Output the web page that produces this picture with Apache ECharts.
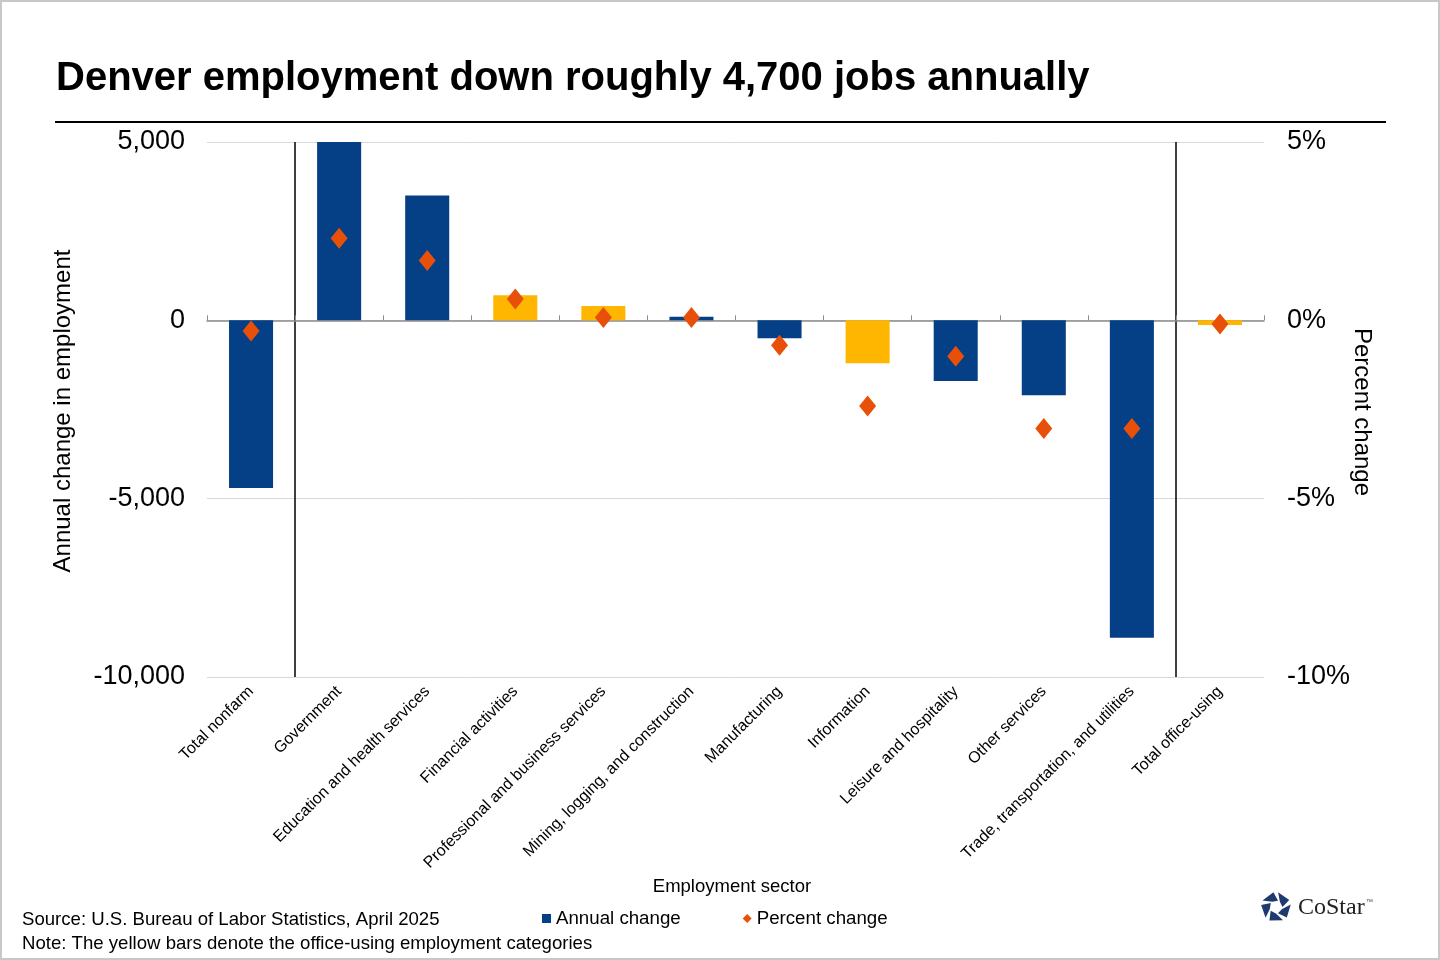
<!DOCTYPE html>
<html>
<head>
<meta charset="utf-8">
<script src="https://cdn.jsdelivr.net/npm/echarts@6/dist/echarts.min.js"></script>
<style>
  html, body { margin: 0; padding: 0; background: #fff; }
  #chart { width: 1440px; height: 960px; }
</style>
</head>
<body>
<div id="chart"></div>
<script>
const categories = [
  'Total nonfarm', 'Government', 'Education and health services', 'Financial activities',
  'Professional and business services', 'Mining, logging, and construction', 'Manufacturing',
  'Information', 'Leisure and hospitality', 'Other services',
  'Trade, transportation, and utilities', 'Total office-using'
];
const annualChange = [-4700, 5000, 3500, 700, 400, 100, -500, -1200, -1700, -2100, -8900, -130];
const percentChange = [-0.3, 2.3, 1.68, 0.6, 0.08, 0.08, -0.7, -2.4, -1.01, -3.03, -3.03, -0.1];
const officeUsing = ['Financial activities', 'Professional and business services', 'Information', 'Total office-using'];
const leftTicks = [-10000, -5000, 0, 5000];
const rightTicks = [-10, -5, 0, 5];
const separatorBefore = ['Government', 'Total office-using'];

const FONT = 'Liberation Sans, Arial, sans-serif';
const NAVY = '#053F86';
const YELLOW = '#FFB600';
const ORANGE = '#E8500A';

const chart = echarts.init(document.getElementById('chart'));

const barData = annualChange.map((v, i) => officeUsing.includes(categories[i])
  ? { value: v, itemStyle: { color: YELLOW } } : v);
const separatorIdx = separatorBefore.map(n => categories.indexOf(n));

function logoBlocks(cx, cy) {
  const els = [];
  const R = 15, r = 6.5;
  for (let k = 0; k < 5; k++) {
    const a0 = (-90 + k * 72 + 8) * Math.PI / 180;
    const a1 = (-90 + k * 72 + 62) * Math.PI / 180;
    const pts = [
      [cx + R * Math.cos(a0), cy + R * Math.sin(a0)],
      [cx + R * Math.cos(a1), cy + R * Math.sin(a1)],
      [cx + r * Math.cos(a1 + 0.5), cy + r * Math.sin(a1 + 0.5)],
      [cx + r * Math.cos(a0 + 0.5), cy + r * Math.sin(a0 + 0.5)]
    ];
    els.push({ type: 'polygon', shape: { points: pts }, style: { fill: '#1F3A6E' }, silent: true });
  }
  return els;
}

const option = {
  animation: false,
  backgroundColor: '#fff',
  textStyle: { fontFamily: FONT },
  title: {
    text: 'Denver employment down roughly 4,700 jobs annually',
    left: 51, top: 54,
    textStyle: { fontSize: 40, fontWeight: 'bold', color: '#000', fontFamily: FONT }
  },
  grid: { left: 207, right: 176, top: 142, bottom: 283, containLabel: false },
  legend: {
    left: 537, top: 904,
    itemWidth: 9, itemHeight: 9, itemGap: 62,
    textStyle: { fontSize: 18.7, color: '#000', fontFamily: FONT },
    data: [{ name: 'Annual change', icon: 'rect' }, { name: 'Percent change', icon: 'diamond' }]
  },
  xAxis: [
    {
      type: 'category', data: categories, position: 'top',
      axisLine: { onZero: true, lineStyle: { color: '#8c8c8c', width: 1.5 } },
      axisTick: { show: true, interval: 0, length: 5, lineStyle: { color: '#8c8c8c' } },
      axisLabel: { show: false },
      splitLine: { show: false }
    },
    {
      type: 'category', data: categories, position: 'bottom',
      axisLine: { show: false, onZero: false },
      axisTick: { show: false },
      axisLabel: { interval: 0, rotate: 45, fontSize: 16, color: '#000', margin: 12, fontFamily: FONT },
      splitLine: {
        show: true, showMinLine: true, showMaxLine: false,
        interval: (idx) => separatorIdx.includes(idx),
        lineStyle: { color: '#000', width: 1.5 }
      }
    }
  ],
  yAxis: [
    {
      type: 'value', min: leftTicks[0], max: leftTicks[leftTicks.length - 1], interval: 5000,
      axisLine: { show: false }, axisTick: { show: false },
      axisLabel: {
        fontSize: 27, color: '#000', margin: 22, fontFamily: FONT,
        formatter: v => v.toLocaleString('en-US')
      },
      splitLine: { showMinLine: true, showMaxLine: true, lineStyle: { color: '#d9d9d9', width: 1 } }
    },
    {
      type: 'value', min: rightTicks[0], max: rightTicks[rightTicks.length - 1], interval: 5,
      position: 'right',
      axisLine: { show: false }, axisTick: { show: false },
      axisLabel: { fontSize: 27, color: '#000', margin: 23, fontFamily: FONT, formatter: '{value}%' },
      splitLine: { show: false }
    }
  ],
  series: [
    {
      name: 'Annual change', type: 'bar', xAxisIndex: 1, yAxisIndex: 0,
      data: barData, barWidth: '50%',
      itemStyle: { color: NAVY }, z: 2
    },
    {
      name: 'Percent change', type: 'scatter', xAxisIndex: 1, yAxisIndex: 1,
      data: percentChange, symbol: 'diamond', symbolSize: [17, 21],
      itemStyle: { color: ORANGE, opacity: 1 }, z: 5
    }
  ],
  graphic: [
    { type: 'rect', shape: { x: 1, y: 1, width: 1438, height: 958 }, style: { fill: 'none', stroke: '#c8c8c8', lineWidth: 2 }, silent: true, z: 100 },
    { type: 'line', shape: { x1: 55, y1: 122, x2: 1386, y2: 122 }, style: { stroke: '#000', lineWidth: 2 }, silent: true },
    { type: 'text', x: 63, y: 411, rotation: Math.PI / 2,
      style: { text: 'Annual change in employment', font: '24px ' + FONT, fill: '#000', align: 'center', verticalAlign: 'middle' } },
    { type: 'text', x: 1362, y: 412, rotation: -Math.PI / 2,
      style: { text: 'Percent change', font: '24px ' + FONT, fill: '#000', align: 'center', verticalAlign: 'middle' } },
    { type: 'text', x: 732, y: 887,
      style: { text: 'Employment sector', font: '18.5px ' + FONT, fill: '#000', align: 'center', verticalAlign: 'middle' } },
    { type: 'text', x: 22, y: 920,
      style: { text: 'Source: U.S. Bureau of Labor Statistics, April 2025', font: '18.6px ' + FONT, fill: '#000', align: 'left', verticalAlign: 'middle' } },
    { type: 'text', x: 22, y: 944,
      style: { text: 'Note: The yellow bars denote the office-using employment categories', font: '18.6px ' + FONT, fill: '#000', align: 'left', verticalAlign: 'middle' } },
    ...logoBlocks(1276, 907),
    { type: 'text', x: 1298, y: 908,
      style: { text: 'CoStar', font: '24px Liberation Serif, Times New Roman, serif', fill: '#222', align: 'left', verticalAlign: 'middle' } },
    { type: 'text', x: 1366, y: 902,
      style: { text: '™', font: '7px ' + FONT, fill: '#444', align: 'left', verticalAlign: 'middle' } }
  ]
};
chart.setOption(option);
</script>
</body>
</html>
